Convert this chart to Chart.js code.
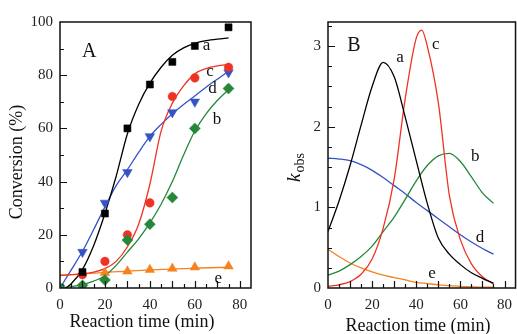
<!DOCTYPE html>
<html>
<head>
<meta charset="utf-8">
<script src="https://cdn.jsdelivr.net/npm/chart.js@4.4.1/dist/chart.umd.min.js"></script>
<style>
  html, body { margin: 0; padding: 0; background: #fff; overflow: hidden; width: 517px; height: 334px; }
  canvas { position: absolute; top: 0; }
</style>
</head>
<body>
<canvas id="panelA" width="258" height="334" style="left:0"></canvas>
<canvas id="panelB" width="262" height="334" style="left:258px"></canvas>
<script>
// ---- panel A: measured conversion (%) ----
const timeA = [0, 10, 20, 30, 40, 50, 60, 75];
const convA = [0, 6, 28, 60, 76.5, 85, 91, 98];
const convB = [0, 1, 3, 18, 24, 34, 60, 75];
const convC = [0, 5, 10, 20, 32, 72, 79, 83];
const convD = [0, 13.5, 32, 43.5, 57, 66, 70, 81];
const timeE = [20, 30, 40, 50, 60, 75];
const convE = [5.7, 6.3, 6.9, 7.3, 7.8, 8.2];

// fitted curves
const fitTime = [0, 5, 10, 15, 20, 25, 30, 35, 40, 45, 50, 55, 60, 65, 70, 75];
const fitTimeA = [2.5, 5, 10, 15, 20, 25, 30, 35, 40, 45, 50, 55, 60, 65, 70, 75];
const fitA = [0, 1.6, 7, 16, 28, 42, 58, 69, 77, 83, 87.5, 90.3, 92, 93, 93.6, 94];
const fitB = [0, 0.5, 1.3, 2.6, 4.6, 8.5, 13.5, 18.5, 24.5, 31.5, 40, 50, 59, 65.5, 70.5, 74.5];
const fitC = [4.8, 5, 5.3, 6, 7.3, 10, 15.5, 24, 39, 59, 69.5, 76, 80.5, 82.5, 83.5, 84];
const fitD = [0, 6.8, 13.8, 22, 30.5, 38.5, 44.5, 51, 57, 61.5, 65.5, 69, 72.2, 75.5, 78.5, 81.5];
const fitTimeE = [0, 10, 20, 30, 40, 50, 60, 76];
const fitE = [4.7, 5.3, 5.9, 6.3, 6.8, 7.1, 7.5, 7.8];

// ---- panel B: k_obs curves ----
const kTime = [0, 5, 10, 15, 20, 25, 30, 35, 40, 45, 50, 55, 60, 65, 70, 75];
const kTimeC = [0, 5, 10, 15, 20, 25, 30, 35, 40, 42.5, 45, 50, 55, 60, 65, 70, 75];
const kA = [0.7, 1.08, 1.52, 2.02, 2.5, 2.8, 2.62, 2.12, 1.58, 1.05, 0.62, 0.42, 0.29, 0.19, 0.12, 0.06];
const kB = [0.16, 0.21, 0.29, 0.39, 0.52, 0.7, 0.88, 1.1, 1.33, 1.52, 1.64, 1.67, 1.57, 1.38, 1.18, 1.05];
const kC = [0.02, 0.04, 0.08, 0.17, 0.36, 0.74, 1.35, 2.35, 3.1, 3.2, 3.0, 2.3, 1.15, 0.6, 0.3, 0.14, 0.05];
const kD = [1.61, 1.6, 1.58, 1.53, 1.46, 1.37, 1.27, 1.17, 1.06, 0.96, 0.86, 0.76, 0.66, 0.57, 0.49, 0.42];
const kE = [0.48, 0.39, 0.31, 0.25, 0.2, 0.16, 0.13, 0.1, 0.07, 0.055, 0.04, 0.03, 0.02, 0.015, 0.01, 0.01];

// tick labels
const xTickLabels = [0, 20, 40, 60, 80];
const yTickLabelsA = [0, 20, 40, 60, 80, 100];
const yTickLabelsB = [0, 1, 2, 3];

// curve letters (data coordinates)
const lettersA = [
  { text: 'A', x: 13, y: 88.8, size: 20 },
  { text: 'a', x: 65.2, y: 91 }, { text: 'c', x: 66.8, y: 81.3 },
  { text: 'd', x: 67.9, y: 75 }, { text: 'b', x: 69.9, y: 63.4 },
  { text: 'e', x: 70.4, y: 3.5 }
];
const lettersB = [
  { text: 'B', x: 11.8, y: 3.01, size: 20 },
  { text: 'a', x: 32.6, y: 2.86 }, { text: 'c', x: 48.9, y: 3.02 },
  { text: 'b', x: 66.7, y: 1.63 }, { text: 'd', x: 68.9, y: 0.63 },
  { text: 'e', x: 47.2, y: 0.18 }
];

const SERIF = '"Liberation Serif", "DejaVu Serif", serif';
const black = '#000000', red = '#ee3324', blue = '#3553c4', green = '#24873a', orange = '#f5821f';

function pts(xs, ys) {
  return xs.map((x, i) => ({ x: x, y: ys[i] }));
}

function steps(from, to, step) {
  const out = [];
  for (let v = from; v <= to + 1e-9; v += step) out.push(+v.toFixed(4));
  return out;
}

// frame, inward tick marks and text
const framePlugin = {
  id: 'frame',
  afterDraw(chart, args, o) {
    const { ctx, chartArea: a } = chart;
    const xs = chart.scales.x, ys = chart.scales.y;
    ctx.save();
    ctx.strokeStyle = '#111';
    ctx.lineWidth = 1.5;
    ctx.strokeRect(a.left, a.top, a.right - a.left, a.bottom - a.top);
    ctx.lineWidth = 1.2;
    ctx.beginPath();
    o.xTicks.forEach(v => {
      const px = Math.round(xs.getPixelForValue(v)) + 0.5;
      const len = (v % o.xMajorEvery === 0) ? 7 : 4;
      ctx.moveTo(px, a.bottom);
      ctx.lineTo(px, a.bottom - len);
    });
    o.yTicks.forEach(v => {
      const py = Math.round(ys.getPixelForValue(v)) + 0.5;
      const len = (Math.abs(v / o.yMajorEvery - Math.round(v / o.yMajorEvery)) < 1e-6) ? 7 : 4;
      ctx.moveTo(a.left, py);
      ctx.lineTo(a.left + len, py);
    });
    ctx.stroke();

    ctx.fillStyle = '#111';
    ctx.textAlign = 'center';
    ctx.textBaseline = 'middle';
    o.letters.forEach(l => {
      ctx.font = (l.size || 17) + 'px ' + SERIF;
      ctx.fillText(l.text, xs.getPixelForValue(l.x), ys.getPixelForValue(l.y));
    });

    // x title
    ctx.font = '18px ' + SERIF;
    ctx.fillText(o.xTitle.text, o.xTitle.x, o.xTitle.y);

    // y title (rotated)
    ctx.translate(o.yTitle.x, o.yTitle.y);
    ctx.rotate(-Math.PI / 2);
    if (o.yTitle.kobs) {
      ctx.textAlign = 'left';
      ctx.font = 'italic 19px ' + SERIF;
      const kw = ctx.measureText('k').width;
      ctx.font = '14px ' + SERIF;
      const sw = ctx.measureText('obs').width;
      const start = -(kw + sw) / 2;
      ctx.font = 'italic 19px ' + SERIF;
      ctx.fillText('k', start, 0);
      ctx.font = '14px ' + SERIF;
      ctx.fillText('obs', start + kw + 1, 5);
    } else {
      ctx.fillText(o.yTitle.text, 0, 0);
    }
    ctx.restore();
  }
};

function scatterSet(label, xs, ys, color, style, radius, rot) {
  return {
    label: label, data: pts(xs, ys), showLine: false,
    pointStyle: style, pointRadius: radius, pointRotation: rot || 0,
    pointBackgroundColor: color, pointBorderColor: color, pointBorderWidth: 0.5
  };
}

function lineSet(label, xs, ys, color) {
  return {
    label: label, data: pts(xs, ys), showLine: true,
    borderColor: color, borderWidth: 1.3, pointRadius: 0,
    cubicInterpolationMode: 'monotone', fill: false
  };
}

function baseOptions(cfg) {
  return {
    responsive: false,
    animation: false,
    layout: { padding: { top: 22, right: cfg.padRight, left: 0, bottom: 0 } },
    plugins: {
      legend: { display: false },
      tooltip: { enabled: false },
      frame: cfg.frame
    },
    scales: {
      x: {
        type: 'linear', min: 0, max: 85,
        grid: { display: false, drawTicks: false },
        border: { display: false },
        afterBuildTicks: s => { s.ticks = xTickLabels.map(v => ({ value: v })); },
        afterFit: s => { s.height = 46; },
        ticks: { padding: 8, color: '#222', font: { family: SERIF, size: 15 } }
      },
      y: {
        type: 'linear', min: 0, max: cfg.yMax,
        grid: { display: false, drawTicks: false },
        border: { display: false },
        afterBuildTicks: s => { s.ticks = cfg.yLabels.map(v => ({ value: v })); },
        afterFit: s => { s.width = cfg.yWidth; },
        ticks: { padding: 7, color: '#222', font: { family: SERIF, size: 15 } }
      }
    }
  };
}

new Chart(document.getElementById('panelA'), {
  type: 'scatter',
  data: {
    datasets: [
      scatterSet('b', timeA, convB, green, 'rectRot', 5.5),
      scatterSet('a', timeA, convA, black, 'rect', 5),
      scatterSet('c', timeA, convC, red, 'circle', 4.3),
      scatterSet('d', timeA, convD, blue, 'triangle', 5.5, 180),
      scatterSet('e', timeE, convE, orange, 'triangle', 5.5),
      lineSet('fit a', fitTimeA, fitA, black),
      lineSet('fit c', fitTime, fitC, red),
      lineSet('fit d', fitTime, fitD, blue),
      lineSet('fit b', fitTime, fitB, green),
      lineSet('fit e', fitTimeE, fitE, orange)
    ]
  },
  options: baseOptions({
    padRight: 7, yMax: 100, yLabels: yTickLabelsA, yWidth: 60,
    frame: {
      xTicks: steps(5, 80, 5), xMajorEvery: 10,
      yTicks: steps(10, 90, 10), yMajorEvery: 20,
      letters: lettersA,
      xTitle: { text: 'Reaction time (min)', x: 142, y: 322 },
      yTitle: { text: 'Conversion (%)', x: 17, y: 162 }
    }
  }),
  plugins: [framePlugin]
});

new Chart(document.getElementById('panelB'), {
  type: 'scatter',
  data: {
    datasets: [
      lineSet('a', kTime, kA, black),
      lineSet('c', kTimeC, kC, red),
      lineSet('b', kTime, kB, green),
      lineSet('d', kTime, kD, blue),
      lineSet('e', kTime, kE, orange)
    ]
  },
  options: baseOptions({
    padRight: 0, yMax: 3.3, yLabels: yTickLabelsB, yWidth: 70,
    frame: {
      xTicks: steps(5, 80, 5), xMajorEvery: 10,
      yTicks: steps(0.25, 3.25, 0.25), yMajorEvery: 1,
      letters: lettersB,
      xTitle: { text: 'Reaction time (min)', x: 160, y: 326 },
      yTitle: { kobs: true, x: 37, y: 168 }
    }
  }),
  plugins: [framePlugin]
});
</script>
</body>
</html>
